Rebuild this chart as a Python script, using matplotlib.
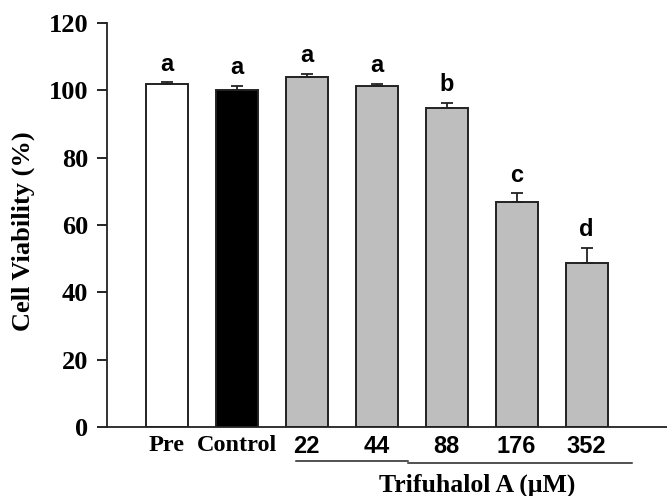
import matplotlib
matplotlib.use("Agg")
import matplotlib.pyplot as plt
import matplotlib.transforms as mtransforms

# ---- data ----
groups = ["Pre", "Control", "22", "44", "88", "176", "352"]
viability = [102.0, 100.1, 103.9, 101.4, 94.7, 66.8, 48.7]
err_up = [0.4, 1.3, 1.1, 0.6, 1.7, 2.6, 4.6]
letters = ["a", "a", "a", "a", "b", "c", "d"]
colors = ["white", "black", "#bebebe", "#bebebe", "#bebebe", "#bebebe", "#bebebe"]

SERIF = "Liberation Serif"
SANS = "Liberation Sans"

fig = plt.figure(figsize=(6.67, 4.96), dpi=100)
ax = fig.add_axes([0.1604, 0.139, 0.8396, 0.8145])

x = list(range(len(groups)))
ax.bar(x, viability, width=0.6, color=colors, edgecolor="#222222",
       linewidth=1.4, zorder=2)
ax.errorbar(x, viability, yerr=[[0] * len(x), err_up], fmt="none",
            ecolor="#222222", elinewidth=1.3, capsize=4.3, capthick=1.3,
            zorder=3)

for xi, v, e, lt in zip(x, viability, err_up, letters):
    ax.text(xi, v + e + 5.4, lt, ha="center", va="center",
            family=SANS, fontweight="bold", fontsize=17)

ax.set_xlim(-0.858, 7.15)
ax.set_ylim(0, 120)
ax.set_yticks(range(0, 121, 20))
ax.set_yticklabels([str(t) for t in range(0, 121, 20)],
                   family=SERIF, fontweight="bold", fontsize=19)
ax.tick_params(axis="y", direction="out", length=7, width=1.2, pad=6.5)
ax.set_xticks(x)
ax.set_xticklabels(groups, fontweight="bold", fontsize=17)
for lbl in ax.get_xticklabels():
    if lbl.get_text() in ("Pre", "Control"):
        lbl.set_family(SERIF)
        lbl.set_fontsize(17.5)
    else:
        lbl.set_family(SANS)
ax.tick_params(axis="x", length=0, pad=6)

for side in ("top", "right"):
    ax.spines[side].set_visible(False)
for side in ("left", "bottom"):
    ax.spines[side].set_linewidth(1.3)
    ax.spines[side].set_color("#222222")

ax.set_ylabel("Cell Viability (%)", family=SERIF, fontweight="bold",
              fontsize=19)
ax.yaxis.set_label_coords(-0.128, 0.486)

# bracket under the treatment concentrations
trans = mtransforms.blended_transform_factory(ax.transData, ax.transAxes)
ax.plot([1.84, 3.45], [-0.083, -0.083], color="#222222", lw=1.1,
        transform=trans, clip_on=False)
ax.plot([3.45, 6.65], [-0.088, -0.088], color="#222222", lw=1.1,
        transform=trans, clip_on=False)
ax.text(4.43, -0.145, "Trifuhalol A (\u03bcM)", transform=trans,
        ha="center", va="center", family=SERIF, fontweight="bold",
        fontsize=18.5)

fig.savefig("out.png", dpi=100)
